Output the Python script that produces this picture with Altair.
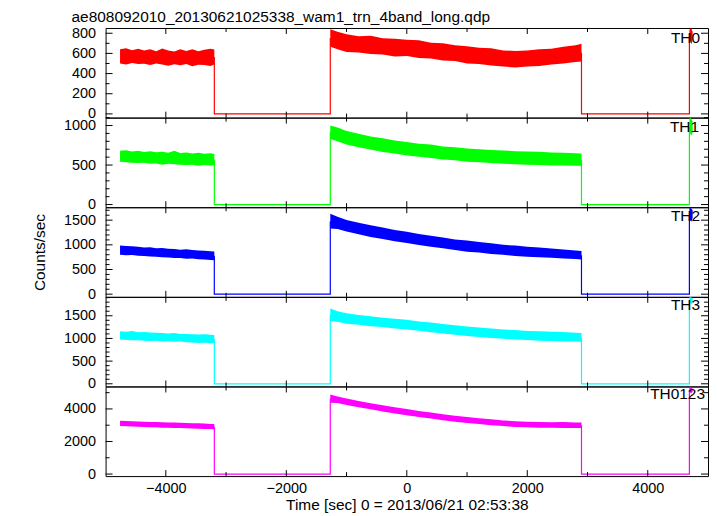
import altair as alt
import pandas as pd

FONT = "Liberation Sans"
W = 605
H = 90
XDOM = [-5000, 5000]

TITLE = "ae808092010_20130621025338_wam1_trn_4band_long.qdp"
XTITLE = "Time [sec] 0 = 2013/06/21 02:53:38"
YTITLE = "Counts/sec"

# time knots of the three observed segments (s)
T1 = [-4760, -4660, -4560, -4460, -4360, -4260, -4160, -4060, -3960, -3860,
      -3760, -3660, -3560, -3460, -3360, -3260, -3195]
T2 = [-1270, -1150, -1000, -800, -600, -400, -200, 0, 200, 400, 600, 800,
      1000, 1200, 1400, 1600, 1800, 2000, 2200, 2400, 2600, 2800, 2900]
T3 = [4691, 4705, 4725, 4745]
# gap edges
GAP_A = [-3195, -1270]
GAP_B = [2900, 4691]

X_LABELS = [-4000, -2000, 0, 2000, 4000]
X_MAJOR = [-4000, -2000, 0, 2000, 4000]
X_MINOR = [-3000, -1000, 1000, 3000]

# ---- TH0 ----
th0_hi1 = [640, 650, 632, 645, 628, 640, 622, 648, 630, 618, 640, 625, 642, 622, 635, 645, 638]
th0_lo1 = [500, 490, 505, 495, 498, 485, 500, 490, 478, 492, 482, 496, 472, 488, 484, 476, 490]
th0_hi2 = [840, 815, 790, 770, 775, 750, 745, 735, 730, 705, 700, 680, 670, 655, 650, 630, 625, 630, 640, 645, 665, 680, 695]
th0_lo2 = [665, 640, 615, 610, 595, 590, 570, 575, 555, 550, 530, 525, 500, 495, 480, 470, 460, 470, 475, 490, 500, 515, 520]
th0_hi3 = [830, 850, 845, 815]
th0_lo3 = [700, 720, 690, 735]

# ---- TH1 ----
th1_hi1 = [680, 688, 672, 682, 666, 674, 662, 668, 656, 680, 652, 660, 646, 654, 642, 650, 640]
th1_lo1 = [540, 535, 530, 525, 530, 515, 520, 505, 515, 510, 505, 500, 505, 490, 500, 495, 500]
th1_hi2 = [1000, 975, 930, 895, 860, 840, 810, 790, 770, 760, 735, 725, 710, 700, 690, 685, 675, 670, 668, 660, 655, 650, 645]
th1_lo2 = [830, 800, 760, 725, 695, 665, 645, 620, 605, 590, 570, 560, 540, 535, 525, 515, 510, 505, 500, 495, 495, 490, 490]
th1_hi3 = [1085, 1100, 1080, 1050]
th1_lo3 = [880, 900, 870, 915]

# ---- TH2 ----
th2_hi1 = [985, 975, 970, 960, 945, 950, 930, 935, 920, 915, 900, 910, 895, 885, 880, 870, 865]
th2_lo1 = [800, 790, 795, 780, 775, 765, 760, 750, 745, 735, 735, 720, 725, 710, 705, 695, 690]
th2_hi2 = [1630, 1570, 1505, 1450, 1395, 1350, 1300, 1265, 1220, 1185, 1150, 1110, 1090, 1055, 1030, 1000, 985, 960, 945, 925, 905, 885, 875]
th2_lo2 = [1330, 1320, 1270, 1215, 1160, 1120, 1075, 1035, 995, 960, 930, 895, 860, 845, 815, 800, 775, 760, 750, 740, 725, 715, 705]
th2_hi3 = [1740, 1760, 1730, 1700]
th2_lo3 = [1480, 1500, 1470, 1550]

# ---- TH3 ----
th3_hi1 = [1160, 1150, 1165, 1135, 1140, 1130, 1125, 1120, 1110, 1120, 1100, 1100, 1095, 1085, 1090, 1080, 1075]
th3_lo1 = [975, 965, 960, 960, 950, 945, 950, 935, 940, 925, 930, 915, 910, 900, 905, 895, 900]
th3_hi2 = [1660, 1600, 1555, 1515, 1490, 1455, 1435, 1410, 1375, 1350, 1320, 1290, 1265, 1240, 1220, 1195, 1185, 1165, 1160, 1145, 1140, 1125, 1120]
th3_lo2 = [1380, 1370, 1325, 1300, 1270, 1250, 1220, 1195, 1170, 1135, 1110, 1080, 1055, 1030, 1010, 995, 975, 965, 950, 945, 930, 930, 925]
th3_hi3 = [1910, 1915, 1900, 1880]
th3_lo3 = [1760, 1780, 1750, 1800]

# ---- TH0123 ----
ths_hi1 = [3280, 3260, 3240, 3230, 3210, 3205, 3190, 3180, 3165, 3160, 3145, 3140, 3120, 3115, 3100, 3080, 3070]
ths_lo1 = [2950, 2930, 2925, 2900, 2895, 2875, 2870, 2850, 2845, 2830, 2825, 2810, 2800, 2785, 2775, 2760, 2745]
ths_hi2 = [4880, 4760, 4640, 4490, 4350, 4220, 4100, 3990, 3880, 3780, 3670, 3580, 3500, 3430, 3360, 3290, 3250, 3210, 3195, 3180, 3190, 3170, 3170]
ths_lo2 = [4380, 4360, 4240, 4110, 3975, 3840, 3720, 3610, 3510, 3405, 3310, 3220, 3140, 3070, 3000, 2945, 2890, 2870, 2850, 2840, 2830, 2830, 2830]
ths_hi3 = [5300, 5370, 5300, 5250]
ths_lo3 = [4950, 5000, 4980, 5050]

PANELS = [
    dict(name="TH0", color="#ff0000", dom=[-37, 852],
         labels=[0, 200, 400, 600, 800],
         minor=[100, 300, 500, 700],
         hi=(th0_hi1, th0_hi2, th0_hi3), lo=(th0_lo1, th0_lo2, th0_lo3), ty=15, tx=8),
    dict(name="TH1", color="#00ff00", dom=[-34, 1100],
         labels=[0, 500, 1000],
         minor=[100, 200, 300, 400, 600, 700, 800, 900, 1100],
         hi=(th1_hi1, th1_hi2, th1_hi3), lo=(th1_lo1, th1_lo2, th1_lo3), ty=14, tx=9),
    dict(name="TH2", color="#0000ff", dom=[-54, 1762],
         labels=[0, 500, 1000, 1500],
         minor=[100, 200, 300, 400, 600, 700, 800, 900, 1100, 1200, 1300, 1400, 1600, 1700],
         hi=(th2_hi1, th2_hi2, th2_hi3), lo=(th2_lo1, th2_lo2, th2_lo3), ty=14, tx=8),
    dict(name="TH3", color="#00ffff", dom=[-59, 1917],
         labels=[0, 500, 1000, 1500],
         minor=[100, 200, 300, 400, 600, 700, 800, 900, 1100, 1200, 1300, 1400, 1600, 1700, 1800, 1900],
         hi=(th3_hi1, th3_hi2, th3_hi3), lo=(th3_lo1, th3_lo2, th3_lo3), ty=13, tx=8),
    dict(name="TH0123", color="#ff00ff", dom=[-124, 5380],
         labels=[0, 2000, 4000],
         minor=[1000, 3000, 5000],
         hi=(ths_hi1, ths_hi2, ths_hi3), lo=(ths_lo1, ths_lo2, ths_lo3), ty=13, tx=3),
]


def panel(p, idx, last):
    rows = []
    for seg, (tt, hh, ll) in enumerate(zip((T1, T2, T3), p["hi"], p["lo"])):
        for t, h, l in zip(tt, hh, ll):
            rows.append({"t": t, "hi": h, "lo": l, "seg": seg})
    band = pd.DataFrame(rows)

    mid = lambda a, b: (a + b) / 2
    h1, h2, h3 = p["hi"]
    l1, l2, l3 = p["lo"]
    gap = pd.DataFrame({
        "t": [GAP_A[0], GAP_A[0], GAP_A[1], GAP_A[1],
              GAP_B[0], GAP_B[0], GAP_B[1], GAP_B[1]],
        "lo": [mid(h1[-1], l1[-1]), 0, 0, mid(h2[0], l2[0]),
               mid(h2[-1], l2[-1]), 0, 0, mid(h3[0], l3[0])],
        "g": [0, 0, 0, 0, 1, 1, 1, 1],
        "o": [0, 1, 2, 3, 0, 1, 2, 3],
    })

    xs = alt.Scale(domain=XDOM, nice=False, zero=False)
    ys = alt.Scale(domain=p["dom"], nice=False, zero=False)

    if last:
        xaxis = alt.Axis(values=X_LABELS, ticks=False, domain=False, grid=False,
                         labelPadding=5, labelFlush=False, format="d",
                         title=XTITLE, titlePadding=3)
    else:
        xaxis = None
    yaxis = alt.Axis(values=p["labels"], ticks=False, domain=False, grid=False,
                     labelPadding=10, format="d", labelFlush=False,
                     title=YTITLE if idx == 2 else None, titlePadding=16)

    X = lambda: alt.X("t:Q", scale=xs, axis=xaxis)
    Y = lambda: alt.Y("lo:Q", scale=ys, axis=yaxis)

    area = alt.Chart(band).mark_area(color=p["color"], opacity=1, clip=True).encode(
        x=X(), y=Y(), y2="hi:Q", detail="seg:N",
    )
    line = alt.Chart(gap).mark_line(color=p["color"], strokeWidth=1.2, clip=True).encode(
        x=X(), y=Y(), detail="g:N", order="o:Q",
    )

    ymaj = pd.DataFrame({"lo": p["labels"]})
    ymin = pd.DataFrame({"lo": p["minor"]})
    xmaj = pd.DataFrame({"t": X_MAJOR})
    xmin = pd.DataFrame({"t": X_MINOR})

    def yrule(df, x0, x1):
        return alt.Chart(df).mark_rule(color="#000", strokeWidth=1).encode(
            y=Y(), x=alt.value(x0), x2=alt.value(x1))

    def xrule(df, y0, y1):
        return alt.Chart(df).mark_rule(color="#000", strokeWidth=1).encode(
            x=X(), y=alt.value(y0), y2=alt.value(y1))

    ticks = [
        yrule(ymaj, 0, 7), yrule(ymin, 0, 4),
        yrule(ymaj, W, W - 7), yrule(ymin, W, W - 4),
        xrule(xmaj, 0, 6), xrule(xmin, 0, 4),
        xrule(xmaj, H, H - 6), xrule(xmin, H, H - 4),
    ]

    label = alt.Chart(pd.DataFrame({"name": [p["name"]]})).mark_text(
        align="right", baseline="alphabetic", fontSize=15.5, font=FONT, color="#000"
    ).encode(text="name:N", x=alt.value(W - p["tx"]), y=alt.value(p["ty"]))

    ch = alt.layer(area, line, *ticks, label).properties(width=W, height=H)
    if idx == 0:
        ch = ch.properties(title=alt.TitleParams(
            TITLE, anchor="start", fontSize=15.5, font=FONT, fontWeight="normal",
            color="#000", offset=0))
    return ch


charts = [panel(p, i, i == len(PANELS) - 1) for i, p in enumerate(PANELS)]

chart = alt.vconcat(*charts, spacing=0, bounds="flush").properties(
    padding={"left": 24, "top": 0, "right": 0, "bottom": 0}
).configure_view(
    stroke="#000", strokeWidth=1
).configure_axis(
    labelFont=FONT, titleFont=FONT, labelFontSize=14.5, titleFontSize=15.5,
    labelColor="#000", titleColor="#000", titleFontWeight="normal"
).configure_concat(spacing=0)

chart.save("out.html", embed_options={"renderer": "svg", "actions": False})
